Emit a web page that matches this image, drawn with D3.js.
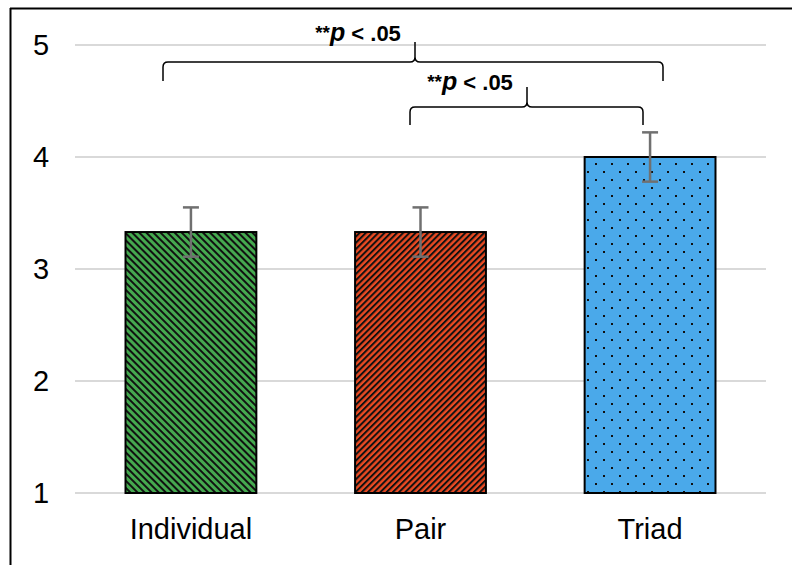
<!DOCTYPE html>
<html><head><meta charset="utf-8">
<script src="https://cdn.jsdelivr.net/npm/d3@7"></script>
<style>body{margin:0;background:#fff}svg{display:block}</style>
</head><body>
<script>
const categories = ["Individual", "Pair", "Triad"];
const means = [3.33, 3.33, 4.0];
const errors = [0.22, 0.22, 0.22];
const yTicks = [1, 2, 3, 4, 5];
const fills = ["#45a94f", "#ea4a22", "#4aa9ea"];
const comparisons = [
  {from: 0, to: 2, label: "p < .05"},
  {from: 1, to: 2, label: "p < .05"}
];

const W = 792, H = 565;
const svg = d3.select("body").append("svg").attr("width", W).attr("height", H);
const defs = svg.append("defs");

// patterns
const pg = defs.append("pattern").attr("id", "pat0").attr("patternUnits", "userSpaceOnUse")
  .attr("width", 5).attr("height", 5).attr("patternTransform", "rotate(45)");
pg.append("rect").attr("width", 5).attr("height", 5).attr("fill", fills[0]);
pg.append("rect").attr("width", 5).attr("height", 2).attr("fill", "#111");

const pr = defs.append("pattern").attr("id", "pat1").attr("patternUnits", "userSpaceOnUse")
  .attr("width", 4.4).attr("height", 4.4).attr("patternTransform", "rotate(-45)");
pr.append("rect").attr("width", 4.4).attr("height", 4.4).attr("fill", fills[1]);
pr.append("rect").attr("width", 4.4).attr("height", 2).attr("fill", "#111");

const pb = defs.append("pattern").attr("id", "pat2").attr("patternUnits", "userSpaceOnUse")
  .attr("width", 16).attr("height", 16);
pb.append("rect").attr("width", 16).attr("height", 16).attr("fill", fills[2]);
pb.append("rect").attr("x", 3).attr("y", 3).attr("width", 2).attr("height", 2).attr("fill", "#111");
pb.append("rect").attr("x", 11).attr("y", 11).attr("width", 2).attr("height", 2).attr("fill", "#111");

// frame
svg.append("line").attr("x1", 10).attr("x2", W).attr("y1", 8.5).attr("y2", 8.5).attr("stroke", "#000").attr("stroke-width", 2);
svg.append("line").attr("x1", 10.5).attr("x2", 10.5).attr("y1", 8).attr("y2", H).attr("stroke", "#000").attr("stroke-width", 2);

const x = d3.scaleBand().domain(categories).range([75, 766]).paddingInner(0.43).paddingOuter(0.22);
const y = d3.scaleLinear().domain([1, 5]).range([493, 45]);

// grid
svg.append("g").selectAll("line").data(yTicks).join("line")
  .attr("x1", 75).attr("x2", 766)
  .attr("y1", d => y(d)).attr("y2", d => y(d))
  .attr("stroke", "#d9d9d9").attr("stroke-width", 2);

// y labels
svg.append("g").selectAll("text").data(yTicks).join("text")
  .attr("x", 41).attr("y", d => y(d) + 10)
  .attr("text-anchor", "middle")
  .attr("font-family", "Liberation Sans, Arial, sans-serif").attr("font-size", 29)
  .text(d => d);

// bars
svg.append("g").selectAll("rect").data(categories).join("rect")
  .attr("x", d => x(d)).attr("width", x.bandwidth())
  .attr("y", (d, i) => y(means[i])).attr("height", (d, i) => y(1) - y(means[i]))
  .attr("fill", (d, i) => `url(#pat${i})`)
  .attr("stroke", "#000").attr("stroke-width", 2);

// error bars
const eb = svg.append("g").attr("stroke", "#707070").attr("stroke-width", 2.5);
categories.forEach((c, i) => {
  const cx = x(c) + x.bandwidth() / 2;
  const t = y(means[i] + errors[i]), b = y(means[i] - errors[i]);
  eb.append("line").attr("x1", cx).attr("x2", cx).attr("y1", t).attr("y2", b);
  eb.append("line").attr("x1", cx - 8).attr("x2", cx + 8).attr("y1", t).attr("y2", t);
  eb.append("line").attr("x1", cx - 8).attr("x2", cx + 8).attr("y1", b).attr("y2", b);
});

// x labels
svg.append("g").selectAll("text").data(categories).join("text")
  .attr("x", d => x(d) + x.bandwidth() / 2).attr("y", 539)
  .attr("text-anchor", "middle")
  .attr("font-family", "Liberation Sans, Arial, sans-serif").attr("font-size", 29)
  .text(d => d);

// braces
const braceGeom = [
  {x1: 163, x2: 663, yh: 62, yEnd: 81, tip: 415, yTip: 42, tx: 358, ty: 41},
  {x1: 410, x2: 643, yh: 107, yEnd: 125, tip: 527, yTip: 87, tx: 470, ty: 90}
];
comparisons.forEach((cmp, k) => {
  const g = braceGeom[k];
  const r = 5;
  const p = `M${g.x1},${g.yEnd} L${g.x1},${g.yh + r} Q${g.x1},${g.yh} ${g.x1 + r},${g.yh}`
    + ` L${g.tip - r},${g.yh} Q${g.tip},${g.yh} ${g.tip},${g.yh - r} L${g.tip},${g.yTip}`
    + ` M${g.tip},${g.yh - r} Q${g.tip},${g.yh} ${g.tip + r},${g.yh}`
    + ` L${g.x2 - r},${g.yh} Q${g.x2},${g.yh} ${g.x2},${g.yh + r} L${g.x2},${g.yEnd}`;
  svg.append("path").attr("d", p).attr("fill", "none").attr("stroke", "#000").attr("stroke-width", 1.5);
  const t = svg.append("text").attr("x", g.tx).attr("y", g.ty).attr("text-anchor", "middle")
    .attr("font-family", "Liberation Sans, Arial, sans-serif").attr("font-size", 22).attr("font-weight", "bold");
  t.append("tspan").attr("font-size", 19).attr("dy", -2).text("**");
  t.append("tspan").attr("font-style", "italic").attr("font-size", 25).attr("dy", 2).text("p");
  t.append("tspan").text(" < .05");
});
</script>
</body></html>
